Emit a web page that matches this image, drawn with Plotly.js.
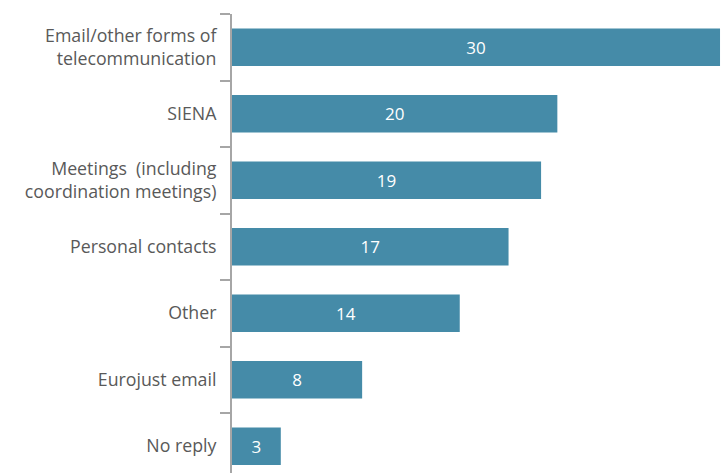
<!DOCTYPE html>
<html><head><meta charset="utf-8">
<script src="https://cdn.plot.ly/plotly-3.0.1.min.js"></script>
<style>html,body{margin:0;padding:0;background:#fff;}</style>
</head><body>
<div id="chart" style="width:728px;height:473px;"></div>
<script>
var categories = ["Email/other forms of<br>telecommunication", "SIENA", "Meetings  (including<br>coordination meetings)", "Personal contacts", "Other", "Eurojust email", "No reply"];
var values = [30, 20, 19, 17, 14, 8, 3];

var trace = {
  type: 'bar', orientation: 'h',
  x: values, y: categories,
  text: values.map(String),
  textposition: 'inside', insidetextanchor: 'middle',
  textfont: {family: '"Open Sans", sans-serif', size: 17, color: '#ffffff'},
  marker: {color: '#458ba8'},
  hoverinfo: 'none', cliponaxis: false
};
var layout = {
  width: 728, height: 473,
  margin: {l: 232, r: 0, t: 14, b: 0},
  paper_bgcolor: '#fff', plot_bgcolor: '#fff',
  bargap: 0.435,
  showlegend: false,
  xaxis: {range: [0, 30.49], showgrid: false, zeroline: false, showline: false, showticklabels: false, ticks: ''},
  yaxis: {
    type: 'category', range: [6.402, -0.5],
    showline: true, linecolor: '#a6a6a6', linewidth: 2,
    ticks: 'outside', tickson: 'boundaries', ticklen: 10, tickcolor: '#a6a6a6', tickwidth: 2,
    ticklabelstandoff: 10,
    showgrid: false, zeroline: false,
    tickfont: {family: '"Open Sans", sans-serif', size: 17.75, color: '#595959'}
  },
  font: {family: '"Open Sans", sans-serif'}
};
Plotly.newPlot('chart', [trace], layout, {staticPlot: true, displayModeBar: false});
</script>
</body></html>
